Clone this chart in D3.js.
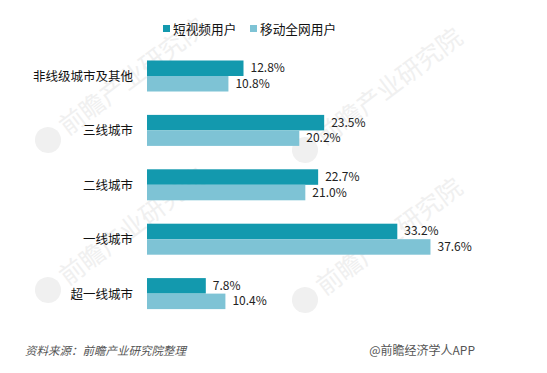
<!DOCTYPE html>
<html><head><meta charset="utf-8">
<script src="https://cdn.jsdelivr.net/npm/d3@7"></script>
<style>
body{margin:0;background:#fff;}
svg{display:block;font-family:"Noto Sans CJK SC","Noto Sans",sans-serif;}
</style></head><body>
<svg id="c" width="547" height="373"></svg>
<script>
const categories = ["非线级城市及其他","三线城市","二线城市","一线城市","超一线城市"];
const seriesNames = ["短视频用户","移动全网用户"];
const shortVideo = [12.8, 23.5, 22.7, 33.2, 7.8];
const mobileAll = [10.8, 20.2, 21.0, 37.6, 10.4];
const colors = ["#1399ae","#7ec3d5"];

const svg = d3.select("#c");
svg.append("rect").attr("width",547).attr("height",373).attr("fill","#fff");

// faint watermarks
const wm = svg.append("g").attr("fill","#f0f0f0");
[[48,140],[305,150],[48,290],[305,300]].forEach(([x,y])=>{
  const g = wm.append("g").attr("transform",`translate(${x},${y}) rotate(-37)`);
  g.append("circle").attr("r",13);
  g.append("text").attr("x",18).attr("y",9).attr("font-size",25).text("前瞻产业研究院");
});

const x = d3.scaleLinear().domain([0,33.2]).range([147,397.3]);
const y = d3.scaleBand().domain(categories).range([48.8,320.8]).paddingInner(0.43).paddingOuter(0.215);
const sub = d3.scaleBand().domain([0,1]).range([0,y.bandwidth()]);

const data = categories.map((c,i)=>({c, v:[shortVideo[i], mobileAll[i]]}));

const groups = svg.append("g").selectAll("g").data(data).join("g")
  .attr("transform",d=>`translate(0,${y(d.c)})`);

groups.selectAll("rect").data(d=>d.v).join("rect")
  .attr("x",x(0)).attr("y",(d,i)=>sub(i))
  .attr("width",d=>x(d)-x(0)).attr("height",sub.bandwidth())
  .attr("fill",(d,i)=>colors[i]);

groups.selectAll("text.v").data(d=>d.v).join("text").attr("class","v")
  .attr("x",d=>x(d)+7).attr("y",(d,i)=>sub(i)+sub.bandwidth()/2+4)
  .attr("font-size",12).attr("fill","#222")
  .text(d=>d.toFixed(1)+"%");

// category axis labels
svg.append("g").selectAll("text").data(categories).join("text")
  .attr("x",133).attr("y",d=>y(d)+y.bandwidth()/2+5)
  .attr("text-anchor","end").attr("font-size",12.5).attr("fill","#111")
  .text(d=>d);

// legend
const lg = svg.append("g");
const lx = [163,250];
seriesNames.forEach((n,i)=>{
  lg.append("rect").attr("x",lx[i]).attr("y",25).attr("width",7).attr("height",7).attr("fill",colors[i]);
  lg.append("text").attr("x",lx[i]+10).attr("y",33.5).attr("font-size",12.7).attr("fill","#111").text(n);
});

// footer
svg.append("text").attr("x",25).attr("y",355).attr("font-size",11.5).attr("font-style","italic")
  .attr("fill","#555").text("资料来源：前瞻产业研究院整理");
svg.append("text").attr("x",475).attr("y",355).attr("font-size",12).attr("text-anchor","end")
  .attr("fill","#555").text("@前瞻经济学人APP");
</script>
</body></html>
